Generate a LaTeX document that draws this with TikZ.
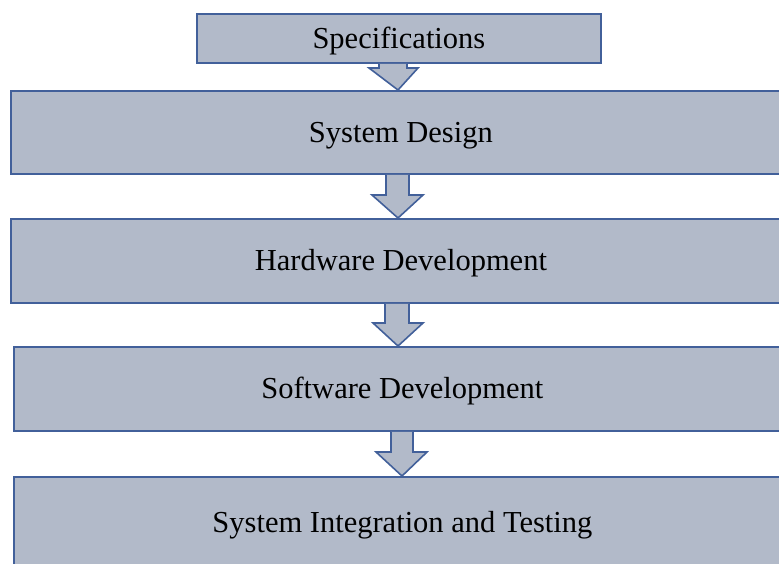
\documentclass[tikz,border=0pt]{standalone}
\usepackage{fontspec}
\setmainfont{Liberation Serif}
\definecolor{boxfill}{RGB}{178,186,201}
\definecolor{boxline}{RGB}{66,96,154}
\begin{document}
\begin{tikzpicture}[x=1pt,y=-1pt,
  stage/.style={draw=boxline, fill=boxfill, line width=1.8pt, rectangle, inner sep=0pt,
    anchor=north west, font=\fontsize{30.5}{34}\selectfont, text=black,
    text height=22pt, text depth=2pt},
  blockarrow/.style={draw=boxline, fill=boxfill, line width=1.6pt, line join=miter}]
\useasboundingbox (0,0) rectangle (779,563);
\clip (0,0) rectangle (779,563);
\fill[white] (0,0) rectangle (779,563);
% boxes
\node[stage, minimum width=404pt, minimum height=49pt] (spec) at (196,13) {Specifications};
\node[stage, minimum width=780pt, minimum height=83pt] (sd) at (10,90) {System Design};
\node[stage, minimum width=780pt, minimum height=84pt] (hw) at (10,218) {Hardware Development};
\node[stage, minimum width=777pt, minimum height=84pt] (sw) at (13,346) {Software Development};
\node[stage, minimum width=777pt, minimum height=92pt] (si) at (13,476) {System Integration and Testing};
% block arrows from box to box
\draw[blockarrow] (379,0 |- spec.south) -- (379,68) -- (369,68) -- (398,0 |- sd.north) -- (418,68) -- (407,68) -- (407,0 |- spec.south);
\draw[blockarrow] (386,0 |- sd.south) -- (386,195) -- (372,195) -- (398,0 |- hw.north) -- (423,195) -- (409,195) -- (409,0 |- sd.south);
\draw[blockarrow] (385,0 |- hw.south) -- (385,323) -- (373,323) -- (398,0 |- sw.north) -- (423,323) -- (409,323) -- (409,0 |- hw.south);
\draw[blockarrow] (391,0 |- sw.south) -- (391,452) -- (376,452) -- (402,0 |- si.north) -- (427,452) -- (413,452) -- (413,0 |- sw.south);
\end{tikzpicture}
\end{document}
